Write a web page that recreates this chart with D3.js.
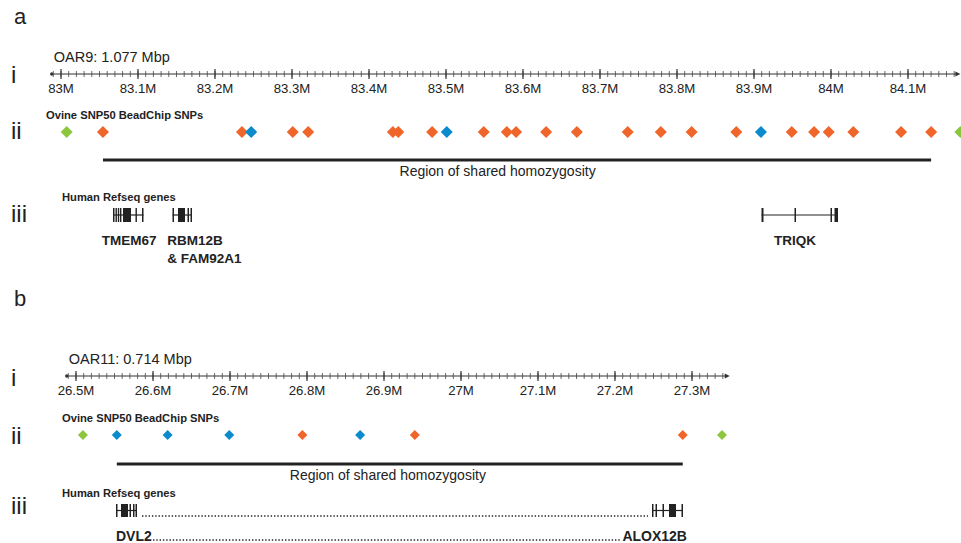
<!DOCTYPE html>
<html>
<head>
<meta charset="utf-8">
<script src="https://cdn.jsdelivr.net/npm/d3@7"></script>
<style>
  html, body { margin: 0; padding: 0; background: #fff; }
  svg { display: block; font-family: "Liberation Sans", Arial, Helvetica, sans-serif; }
</style>
</head>
<body>
<svg id="chart" width="961" height="543"></svg>
<script>
// ---------------- DATA ----------------
// Panel a: OAR9
const axisA_domain = [82.988, 84.168];
const titleA = "OAR9: 1.077 Mbp";
const snpA_pos = [83.0074, 83.0545, 83.235, 83.247, 83.301, 83.321, 83.431, 83.438, 83.482, 83.501,
                  83.549, 83.579, 83.591, 83.630, 83.670, 83.736, 83.779, 83.819, 83.877, 83.909,
                  83.949, 83.978, 83.997, 84.029, 84.091, 84.130, 84.168];
const snpA_type = ["g","o","o","b","o","o","o","o","o","b",
                   "o","o","o","o","o","o","o","o","o","b",
                   "o","o","o","o","o","o","g"];
const regionA = [83.0545, 84.130];
const regionA_labelPos = 83.567;
const genesA_names = ["TMEM67", "RBM12B|& FAM92A1", "TRIQK"];
const genesA_labelPos = [83.053, 83.138, 83.926];
const genesA_exons = [
  [[83.06753,83.06948],[83.07078,83.07247],[83.07377,83.07532],[83.07662,83.07831],[83.08052,83.09091],[83.09675,83.09844],[83.10519,83.10714]],
  [[83.14481,83.14675],[83.15195,83.16104],[83.16429,83.16623],[83.16818,83.17013]],
  [[83.90974,83.91234],[83.95260,83.95455],[83.99935,84.0013],[84.00455,84.00909]]
];

// Panel b: OAR11
const axisB_domain = [26.488, 27.349];
const titleB = "OAR11: 0.714 Mbp";
const snpB_pos = [26.509, 26.553, 26.619, 26.699, 26.794, 26.869, 26.940, 27.288, 27.339];
const snpB_type = ["g","b","b","b","o","b","o","o","g"];
const regionB = [26.553, 27.288];
const regionB_labelPos = 26.905;
const genesB_names = ["DVL2", "ALOX12B"];
const genesB_exons = [
  [[26.55195,26.5539],[26.55844,26.56753],[26.56948,26.57143],[26.57403,26.57597],[26.57727,26.57922]],
  [[27.24805,27.25],[27.2526,27.25455],[27.26169,27.26364],[27.27013,27.27922],[27.28636,27.28831]]
];

const snpColors = { o: "#f0652a", b: "#0b8bcc", g: "#8cc63f" };

// ---------------- DRAW ----------------
const svg = d3.select("#chart");
const ink = "#222";

// pixel anchors (83 -> 61, 84 -> 831) ; (27 -> 461, 28 -> 1231)
const xA = d3.scaleLinear().domain([83, 84]).range([61, 831]);
const xB = d3.scaleLinear().domain([27, 28]).range([461, 1231]);

function drawAxis(x, domain, y, title) {
  const g = svg.append("g");
  const [a, b] = domain;
  g.append("line").attr("x1", x(a)).attr("x2", x(b) - 3).attr("y1", y).attr("y2", y)
    .attr("stroke", "#333").attr("stroke-width", 1.1);
  g.append("circle").attr("cx", x(a)).attr("cy", y).attr("r", 1.7).attr("fill", "#333");
  const xe = x(b);
  g.append("path").attr("d", `M${xe},${y} L${xe-5},${y-2.6} L${xe-5},${y+2.6} Z`).attr("fill", "#333");
  const minor = d3.ticks(a, b, 120);
  const major = d3.ticks(a, b, 12);
  g.selectAll(".mn").data(minor).join("line")
    .attr("x1", d => x(d)).attr("x2", d => x(d)).attr("y1", y - 3).attr("y2", y + 3)
    .attr("stroke", "#444").attr("stroke-width", 0.8);
  g.selectAll(".mj").data(major).join("line")
    .attr("x1", d => x(d)).attr("x2", d => x(d)).attr("y1", y - 5).attr("y2", y + 5)
    .attr("stroke", "#333").attr("stroke-width", 1.2);
  const fmt = d3.format(".1~f");
  g.selectAll(".lb").data(major).join("text")
    .attr("x", d => x(d)).attr("y", y + 19)
    .attr("text-anchor", "middle").attr("font-size", 13.2).attr("fill", ink)
    .text(d => fmt(d) + "M");
  g.append("text").attr("x", x(a) + 2).attr("y", y - 12).attr("font-size", 14.5).attr("fill", ink).text(title);
}

function roman(txt, y) {
  svg.append("text").attr("x", 11).attr("y", y).attr("font-size", 24).attr("fill", ink).text(txt);
}

function drawSnps(x, pos, types, y, half) {
  const side = half * Math.SQRT2;
  svg.append("g").selectAll("path").data(pos).join("path")
    .attr("d", d3.symbol(d3.symbolSquare, side * side)())
    .attr("transform", d => `translate(${x(d)},${y}) rotate(45)`)
    .attr("fill", (d, i) => snpColors[types[i]]);
}

function drawRegion(x, reg, y, labelPos) {
  svg.append("line").attr("x1", x(reg[0])).attr("x2", x(reg[1])).attr("y1", y).attr("y2", y)
    .attr("stroke", ink).attr("stroke-width", 3);
  svg.append("text").attr("x", x(labelPos)).attr("y", y + 16).attr("text-anchor", "middle")
    .attr("font-size", 14).attr("fill", ink).text("Region of shared homozygosity");
}

function drawGene(x, exons, yTop, h) {
  const g = svg.append("g");
  const s = exons[0][0], e = exons[exons.length - 1][1];
  g.append("line").attr("x1", x(s)).attr("x2", x(e)).attr("y1", yTop + h / 2).attr("y2", yTop + h / 2)
    .attr("stroke", ink).attr("stroke-width", 1.2);
  g.selectAll("rect").data(exons).join("rect")
    .attr("x", d => x(d[0])).attr("width", d => Math.max(1.4, x(d[1]) - x(d[0])))
    .attr("y", yTop).attr("height", h).attr("fill", ink);
}

function smallBold(txt, x, y) {
  svg.append("text").attr("x", x).attr("y", y).attr("font-size", 11.2).attr("font-weight", "bold")
    .attr("fill", ink).text(txt);
}

// ----- Panel a -----
svg.append("text").attr("x", 14).attr("y", 24).attr("font-size", 22).attr("fill", ink).text("a");
roman("i", 83);
drawAxis(xA, axisA_domain, 74, titleA);
roman("ii", 139);
smallBold("Ovine SNP50 BeadChip SNPs", 46, 119);
drawSnps(xA, snpA_pos, snpA_type, 132, 6);
drawRegion(xA, regionA, 160, regionA_labelPos);
roman("iii", 222);
smallBold("Human Refseq genes", 62, 201);
genesA_exons.forEach(ex => drawGene(xA, ex, 208, 14));
genesA_names.forEach((n, i) => {
  const lines = n.split("|");
  lines.forEach((t, j) => {
    svg.append("text").attr("x", xA(genesA_labelPos[i])).attr("y", 245 + j * 18)
      .attr("font-size", 13.5).attr("font-weight", "bold").attr("fill", ink).text(t);
  });
});

// ----- Panel b -----
svg.append("text").attr("x", 14).attr("y", 306).attr("font-size", 22).attr("fill", ink).text("b");
roman("i", 386);
drawAxis(xB, axisB_domain, 376, titleB);
roman("ii", 444);
smallBold("Ovine SNP50 BeadChip SNPs", 62, 422);
drawSnps(xB, snpB_pos, snpB_type, 435, 5);
drawRegion(xB, regionB, 464, regionB_labelPos);
roman("iii", 514);
smallBold("Human Refseq genes", 62, 497);
genesB_exons.forEach(ex => drawGene(xB, ex, 504, 13));
// dotted leader between the two genes (glyph row)
const gEnd0 = genesB_exons[0][genesB_exons[0].length - 1][1];
const gStart1 = genesB_exons[1][0][0];
const gEnd1 = genesB_exons[1][genesB_exons[1].length - 1][1];
svg.append("line").attr("x1", xB(gEnd0) + 5).attr("x2", xB(gStart1) - 4).attr("y1", 516).attr("y2", 516)
  .attr("stroke", ink).attr("stroke-width", 1.6).attr("stroke-dasharray", "1.4,1.9");
// gene labels with dotted leader
const lbl0 = svg.append("text").attr("x", xB(genesB_exons[0][0][0])).attr("y", 541)
  .attr("font-size", 14).attr("font-weight", "bold").attr("fill", ink).text(genesB_names[0]);
const lbl1 = svg.append("text").attr("x", xB(gEnd1) + 4).attr("y", 541)
  .attr("text-anchor", "end").attr("font-size", 14).attr("font-weight", "bold").attr("fill", ink).text(genesB_names[1]);
const b0 = lbl0.node().getBBox(), b1 = lbl1.node().getBBox();
svg.append("line").attr("x1", b0.x + b0.width + 1).attr("x2", b1.x - 1).attr("y1", 540).attr("y2", 540)
  .attr("stroke", ink).attr("stroke-width", 1.6).attr("stroke-dasharray", "1.4,1.9");
</script>
</body>
</html>
